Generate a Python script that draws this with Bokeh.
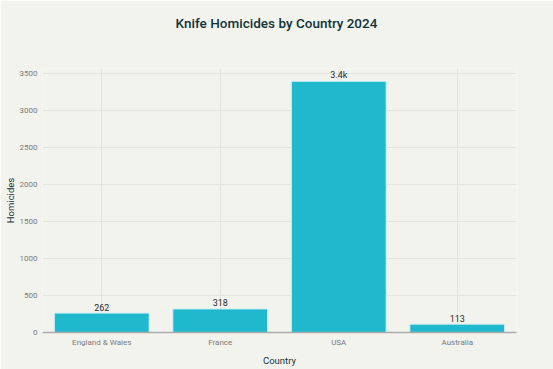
from bokeh.plotting import figure
from bokeh.models import FactorRange, Range1d, ColumnDataSource, FixedTicker
from bokeh.core.properties import value
from bokeh.embed import file_html
from bokeh.resources import INLINE

countries = ["England & Wales", "France", "USA", "Australia"]
homicides = [262, 318, 3390, 113]
bar_labels = ["262", "318", "3.4k", "113"]
y_ticks = [0, 500, 1000, 1500, 2000, 2500, 3000, 3500]

title_text = "Knife Homicides by Country 2024"
x_title = "Country"
y_title = "Homicides"

BG = "#F3F3EE"
BAR = "#1FB8CD"
DARK = "#13343B"
GRID = "#E3E3DE"
FONT = "Roboto"

src = ColumnDataSource(dict(x=countries, top=homicides, lab=bar_labels))

p = figure(
    width=553, height=369,
    x_range=FactorRange(*countries, range_padding=0),
    y_range=Range1d(0, 3563),
    output_backend="svg", toolbar_location=None,
    min_border_left=42, min_border_right=37,
    min_border_top=68, min_border_bottom=37,
    background_fill_color=BG, border_fill_color=BG,
    title=title_text + "\n\n",
)
p.outline_line_color = None

p.title.align = "left"
p.title.offset = 133
p.title.vertical_align = "top"
p.title.standoff = 7
p.title.text_font = "Roboto Medium"
p.title.text_font_size = "13.5px"
p.title.text_font_style = "normal"
p.title.text_color = DARK

p.vbar(x="x", top="top", width=0.8, source=src, fill_color=BAR,
       line_color="#CDEFF3", line_width=1)

p.text(x="x", y="top", text="lab", source=src, y_offset=-6,
       text_align="center", text_baseline="middle",
       text_font=value(FONT), text_font_size="9px", text_color="#2A2A2A")

# axes
p.xaxis.axis_label = x_title
p.xaxis.axis_label_text_font = FONT
p.xaxis.axis_label_text_font_size = "9.5px"
p.xaxis.axis_label_text_font_style = "normal"
p.xaxis.axis_label_text_color = DARK
p.xaxis.axis_label_standoff = 5
p.xaxis.axis_line_color = "#ABABAB"
p.xaxis.axis_line_width = 1.5
p.xaxis.major_tick_line_color = None
p.xaxis.minor_tick_line_color = None
p.xaxis.major_tick_out = 0
p.xaxis.major_tick_in = 0
p.xaxis.minor_tick_out = 0
p.xaxis.major_label_text_font = FONT
p.xaxis.major_label_text_font_size = "8px"
p.xaxis.major_label_text_color = "#7A7A7A"
p.xaxis.major_label_standoff = 5

p.yaxis.axis_label = y_title
p.yaxis.axis_label_text_font = FONT
p.yaxis.axis_label_text_font_size = "9.5px"
p.yaxis.axis_label_text_font_style = "normal"
p.yaxis.axis_label_text_color = DARK
p.yaxis.axis_label_standoff = 1
p.yaxis.ticker = FixedTicker(ticks=y_ticks)
p.yaxis.axis_line_color = None
p.yaxis.major_tick_line_color = None
p.yaxis.minor_tick_line_color = None
p.yaxis.major_tick_out = 0
p.yaxis.major_tick_in = 0
p.yaxis.minor_tick_out = 0
p.yaxis.major_label_text_font = FONT
p.yaxis.major_label_text_font_size = "8px"
p.yaxis.major_label_text_color = "#7A7A7A"
p.yaxis.major_label_standoff = 5

p.xgrid.grid_line_color = GRID
p.ygrid.grid_line_color = GRID
p.xgrid.grid_line_width = 1
p.ygrid.grid_line_width = 1

open("out.html", "w").write(file_html(p, INLINE))
